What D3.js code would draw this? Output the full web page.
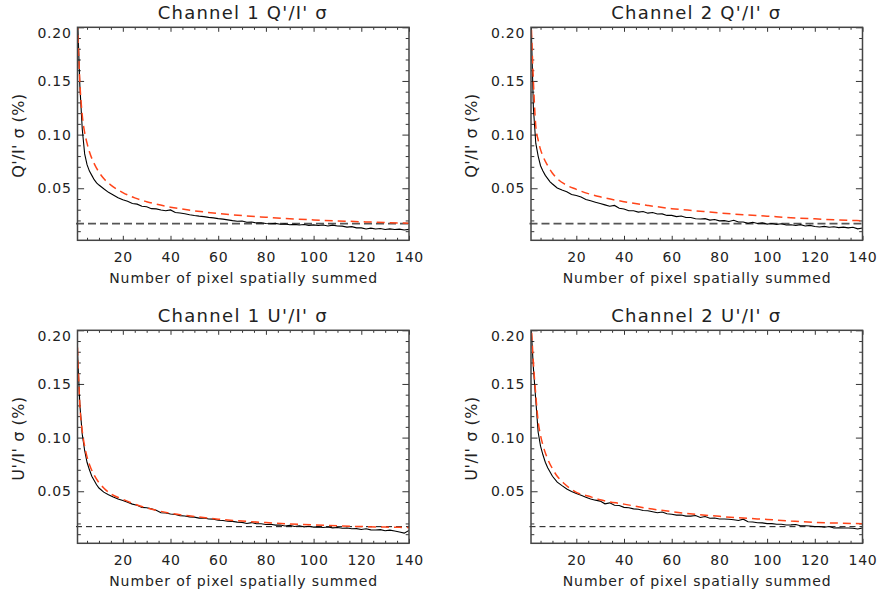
<!DOCTYPE html>
<html>
<head>
<meta charset="utf-8">
<script src="https://cdn.jsdelivr.net/npm/d3@7"></script>
<style>
  body { margin: 0; background: #fff; }
  text { font-family: "DejaVu Sans", sans-serif; fill: #222; }
</style>
</head>
<body>
<script>
// pixel counts summed (x) for measured curves and for model curves
var nMeas = [1,2,3,4,5,6,7,8,9,10,12,14,16,18,20,22,24,26,28,30,32,34,36,38,40,42,44,46,48,50,
  52,54,56,58,60,62,64,66,68,70,72,74,76,78,80,82,84,86,88,90,92,94,96,98,100,102,104,106,108,110,
  112,114,116,118,120,122,124,126,128,130,132,134,136,138,140];
var nModel = [1,2,3,4,5,6,8,10,12,15,20,25,30,40,50,60,70,80,90,100,110,120,130,140];

// measured sigma (black)
var ch1Q = [0.21,0.145,0.105,0.082,0.072,0.066,0.062,0.058,0.055,0.053,
  .0495,.0462,.0438,.0412,.0392,.0378,.0358,.0352,.0332,.0327,
  .0310,.0308,.0297,.0290,.0298,.0274,.0270,.0262,.0253,.0246,
  .0240,.0236,.0229,.0224,.0217,.0212,.0205,.0198,.0193,.0195,
  .0183,.0185,.0177,.0178,.0171,.0169,.0173,.0165,.0168,.0160,
  .0163,.0157,.0162,.0154,.0159,.0153,.0158,.0149,.0156,.0148,
  .0147,.0138,.0142,.0131,.0131,.0121,.0128,.0120,.0125,.0116,
  .0121,.0115,.0119,.0111,.0117];
var ch2Q = [0.21,0.125,0.092,0.080,0.071,0.066,0.062,0.059,0.056,0.054,
  .0502,.0483,.0468,.0441,.0432,.0418,.0396,.0383,.0370,.0358,
  .0345,.0333,.0340,.0314,.0307,.0290,.0291,.0278,.0283,.0268,
  .0274,.0260,.0261,.0247,.0247,.0236,.0242,.0227,.0227,.0216,
  .0214,.0217,.0203,.0209,.0196,.0198,.0190,.0202,.0185,.0186,
  .0173,.0183,.0171,.0177,.0166,.0172,.0163,.0169,.0158,.0160,
  .0153,.0161,.0148,.0154,.0144,.0139,.0145,.0136,.0141,.0133,
  .0138,.0131,.0136,.0122,.0129];
var ch1U = [0.18,0.13,0.103,0.088,0.077,0.070,0.064,0.060,0.056,0.053,
  .0492,.0468,.0446,.0428,.0414,.0398,.0380,.0370,.0350,.0346,
  .0336,.0324,.0300,.0297,.0288,.0283,.0273,.0270,.0261,.0259,
  .0250,.0251,.0241,.0240,.0230,.0228,.0220,.0219,.0212,.0210,
  .0200,.0208,.0197,.0197,.0190,.0192,.0184,.0186,.0176,.0182,
  .0172,.0178,.0168,.0174,.0166,.0168,.0162,.0167,.0159,.0162,
  .0155,.0157,.0150,.0152,.0144,.0150,.0140,.0139,.0142,.0132,
  .0138,.0129,.0120,.0110,.0135];
var ch2U = [0.205,0.165,0.135,0.105,0.092,0.084,0.077,0.072,0.068,0.064,
  .0585,.0552,.0521,.0498,.0480,.0462,.0445,.0428,.0417,.0408,
  .0383,.0392,.0370,.0368,.0350,.0347,.0336,.0332,.0320,.0319,
  .0309,.0300,.0307,.0290,.0285,.0278,.0278,.0268,.0268,.0274,
  .0256,.0264,.0249,.0250,.0242,.0241,.0239,.0235,.0228,.0240,
  .0216,.0214,.0206,.0205,.0198,.0198,.0192,.0192,.0186,.0187,
  .0190,.0178,.0178,.0176,.0170,.0172,.0164,.0171,.0158,.0160,
  .0158,.0157,.0155,.0148,.0157];

// expected sigma (red dashed)
var ch1QModel = [0.205,0.148,0.118,0.102,0.092,0.084,0.073,0.065,0.059,0.053,0.046,0.041,0.0375,0.0324,0.029,0.0265,0.0245,0.023,0.0216,0.0205,0.0196,0.0188,0.018,0.0174];
var ch2QModel = [0.21,0.15,0.108,0.095,0.086,0.08,0.071,0.064,0.059,0.054,0.049,0.045,0.042,0.0375,0.034,0.031,0.029,0.027,0.0253,0.024,0.0226,0.0215,0.0205,0.0197];
var ch1UModel = [0.184,0.13,0.106,0.092,0.082,0.075,0.065,0.058,0.053,0.0475,0.0425,0.038,0.0345,0.0295,0.0265,0.024,0.0222,0.0208,0.0196,0.0186,0.0178,0.0171,0.0166,0.0162];
var ch2UModel = [0.21,0.17,0.14,0.115,0.102,0.093,0.08,0.071,0.064,0.057,0.049,0.0455,0.042,0.038,0.034,0.031,0.0285,0.0266,0.025,0.0237,0.0222,0.021,0.0203,0.0197];

var noiseFloor = 0.017;

var titles = ["Channel 1 Q'/I' \u03c3", "Channel 2 Q'/I' \u03c3", "Channel 1 U'/I' \u03c3", "Channel 2 U'/I' \u03c3"];
var yTitles = ["Q'/I' \u03c3 (%)", "Q'/I' \u03c3 (%)", "U'/I' \u03c3 (%)", "U'/I' \u03c3 (%)"];
var xTitle = "Number of pixel spatially summed";

var xMajor = [20,40,60,80,100,120,140];
var xMinor = [5,10,15,25,30,35,45,50,55,65,70,75,85,90,95,105,110,115,125,130,135];
var yMajor = [0.05,0.10,0.15,0.20];
var yMinor = [0.01,0.02,0.03,0.04,0.06,0.07,0.08,0.09,0.11,0.12,0.13,0.14,0.16,0.17,0.18,0.19];

var meas = [ch1Q, ch2Q, ch1U, ch2U];
var model = [ch1QModel, ch2QModel, ch1UModel, ch2UModel];

// layout
var W = 880, H = 598;
var colX = [77.5, 531], rowY = [27.3, 330.3];
var pw = 331.5, ph = 213;

var svg = d3.select("body").append("svg")
  .attr("width", W).attr("height", H);
svg.append("rect").attr("width", W).attr("height", H).attr("fill", "#fff");

function styleAxis(sel) {
  sel.select(".domain").remove();
  sel.selectAll(".tick line").attr("stroke", "#333").attr("stroke-width", 1);
  sel.selectAll("text").style("font-size", "14px").style("letter-spacing", "0.7px").attr("fill", "#222");
}

for (var i = 0; i < 4; i++) {
  var ox = colX[i % 2], oy = rowY[Math.floor(i / 2)];
  var x = d3.scaleLinear().domain([1, 140]).range([0, pw]);
  var y = d3.scaleLinear().domain([0.0015, 0.2]).range([ph, 0]);

  var g = svg.append("g").attr("transform", "translate(" + ox + "," + oy + ")");

  g.append("clipPath").attr("id", "clip" + i)
    .append("rect").attr("width", pw).attr("height", ph);

  // ticks on all four sides, pointing inward
  g.append("g").attr("transform", "translate(0," + ph + ")")
    .call(d3.axisBottom(x).tickValues(xMinor).tickSize(-2.5).tickFormat("")).call(styleAxis);
  g.append("g").attr("transform", "translate(0," + ph + ")")
    .call(d3.axisBottom(x).tickValues(xMajor).tickSize(-4.5).tickPadding(12).tickFormat(d3.format("d"))).call(styleAxis);
  g.append("g")
    .call(d3.axisTop(x).tickValues(xMinor).tickSize(-2.5).tickFormat("")).call(styleAxis);
  g.append("g")
    .call(d3.axisTop(x).tickValues(xMajor).tickSize(-4.5).tickFormat("")).call(styleAxis);

  g.append("g")
    .call(d3.axisLeft(y).tickValues(yMinor).tickSize(-3.3).tickFormat("")).call(styleAxis);
  var yl = g.append("g")
    .call(d3.axisLeft(y).tickValues(yMajor).tickSize(-6.6).tickPadding(6).tickFormat(d3.format(".2f"))).call(styleAxis);
  yl.selectAll(".tick text").filter(function(d){ return d === 0.20; }).attr("transform", "translate(0,6)");
  g.append("g").attr("transform", "translate(" + pw + ",0)")
    .call(d3.axisRight(y).tickValues(yMinor).tickSize(-3.3).tickFormat("")).call(styleAxis);
  g.append("g").attr("transform", "translate(" + pw + ",0)")
    .call(d3.axisRight(y).tickValues(yMajor).tickSize(-6.6).tickFormat("")).call(styleAxis);

  // noise floor dashed line
  var bottomRow = i >= 2;
  g.append("line")
    .attr("x1", x(1) - 1.5).attr("x2", x(140))
    .attr("y1", y(noiseFloor)).attr("y2", y(noiseFloor))
    .attr("stroke", bottomRow ? "#111" : "#555")
    .attr("stroke-width", bottomRow ? 1 : 1.6)
    .attr("stroke-dasharray", bottomRow ? "6,4" : "8,4");

  var plot = g.append("g").attr("clip-path", "url(#clip" + i + ")");

  var lineMeas = d3.line().x(function(d, k){ return x(nMeas[k]); }).y(function(d){ return y(d); });
  var lineModel = d3.line().x(function(d, k){ return x(nModel[k]); }).y(function(d){ return y(d); })
    .curve(d3.curveMonotoneX);

  plot.append("path").datum(meas[i]).attr("d", lineMeas)
    .attr("fill", "none").attr("stroke", "#000").attr("stroke-width", 1.1);
  plot.append("path").datum(model[i]).attr("d", lineModel)
    .attr("fill", "none").attr("stroke", "#ff4419").attr("stroke-width", 1.5)
    .attr("stroke-dasharray", "8,5");

  // frame
  g.append("rect").attr("width", pw).attr("height", ph)
    .attr("fill", "none").attr("stroke", "#444").attr("stroke-width", 1.5);

  // titles
  g.append("text").attr("x", pw / 2 - 1).attr("y", -8)
    .attr("text-anchor", "middle").style("font-size", "18px")
    .attr("textLength", 169).attr("lengthAdjust", "spacing")
    .text(titles[i]);
  g.append("text").attr("x", pw / 2).attr("y", ph + 43)
    .attr("text-anchor", "middle").style("font-size", "14px")
    .attr("textLength", 268).attr("lengthAdjust", "spacing")
    .text(xTitle);
  g.append("text")
    .attr("transform", "translate(-54," + (ph / 2 + 2) + ") rotate(-90)")
    .attr("text-anchor", "middle").style("font-size", "16px")
    .attr("textLength", 84).attr("lengthAdjust", "spacing")
    .text(yTitles[i]);
}
</script>
</body>
</html>
